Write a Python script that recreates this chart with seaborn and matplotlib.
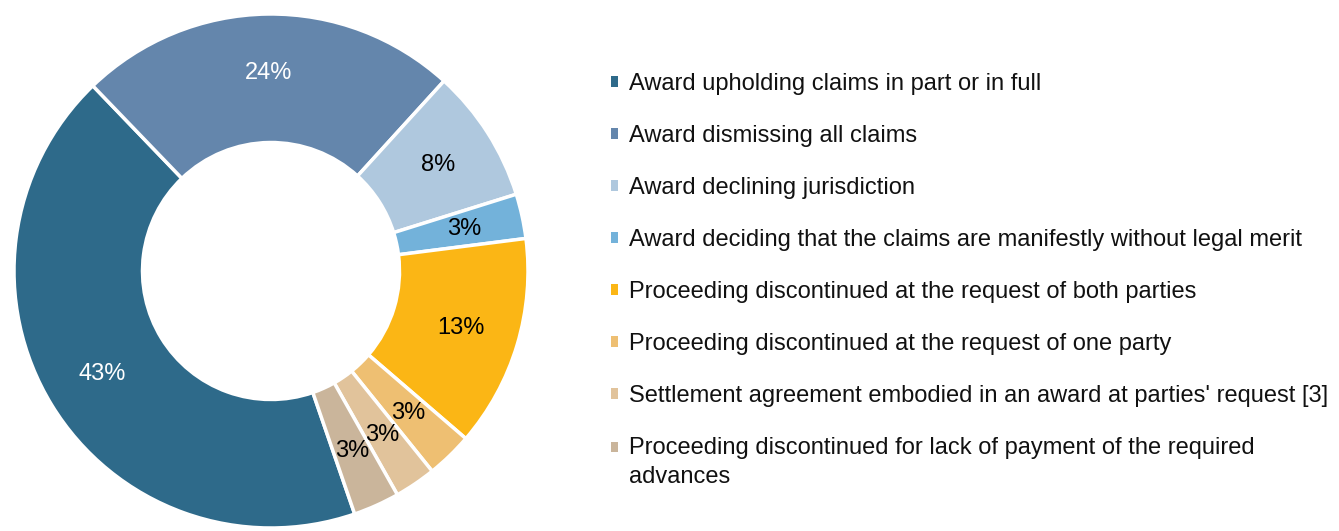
import matplotlib
matplotlib.use("Agg")
import matplotlib.pyplot as plt
import seaborn as sns

sns.set_theme(style="white")
plt.rcParams['font.family'] = ['Liberation Sans', 'DejaVu Sans']

# Data
outcomes = [
    'Award upholding claims in part or in full',
    'Award dismissing all claims',
    'Award declining jurisdiction',
    'Award deciding that the claims are manifestly without legal merit',
    'Proceeding discontinued at the request of both parties',
    'Proceeding discontinued at the request of one party',
    "Settlement agreement embodied in an award at parties' request [3]",
    'Proceeding discontinued for lack of payment of the required\nadvances',
]
shares = [43.0, 23.9, 8.4, 2.8, 13.3, 2.9, 2.6, 2.9]
colors = ['#2E6A8A', '#6486AC', '#AFC8DE', '#73B2DA',
          '#FBB615', '#EEBF72', '#E1C39B', '#CAB59B']
label_colors = ['white', 'white', 'black', 'black',
                'black', 'black', 'black', 'black']

W, H = 1339, 531
fig = plt.figure(figsize=(W / 100, H / 100), dpi=100)

cx, cy, r = 271, 271, 257
ax = fig.add_axes([(cx - r) / W, (H - cy - r) / H, 2 * r / W, 2 * r / H])

wedges, texts, autotexts = ax.pie(
    shares, colors=colors, startangle=289, counterclock=False,
    radius=1, autopct='%.0f%%', pctdistance=0.77,
    wedgeprops=dict(width=0.5, edgecolor='white', linewidth=2.5),
    textprops=dict(fontsize=17),
)
for t, c in zip(autotexts, label_colors):
    t.set_color(c)
ax.set_xlim(-1, 1)
ax.set_ylim(-1, 1)
ax.set_aspect('equal')
ax.axis('off')

leg = fig.legend(
    wedges, outcomes, loc='upper left',
    bbox_to_anchor=(611 / W, 1 - 73 / H),
    frameon=False, fontsize=17, handlelength=0.3, handleheight=0.3,
    handletextpad=0.45, labelspacing=1.27, borderpad=0, borderaxespad=0,
)
for h in leg.legend_handles:
    h.set_linewidth(0)
for t in leg.get_texts():
    t.set_color('#111111')
# two-line entry: wider line gap, marker next to the first line
leg.get_texts()[-1].set_linespacing(1.4)
last = leg.legend_handles[-1]
last.set_y(last.get_y() + 11)

fig.savefig('out.png', dpi=100)
